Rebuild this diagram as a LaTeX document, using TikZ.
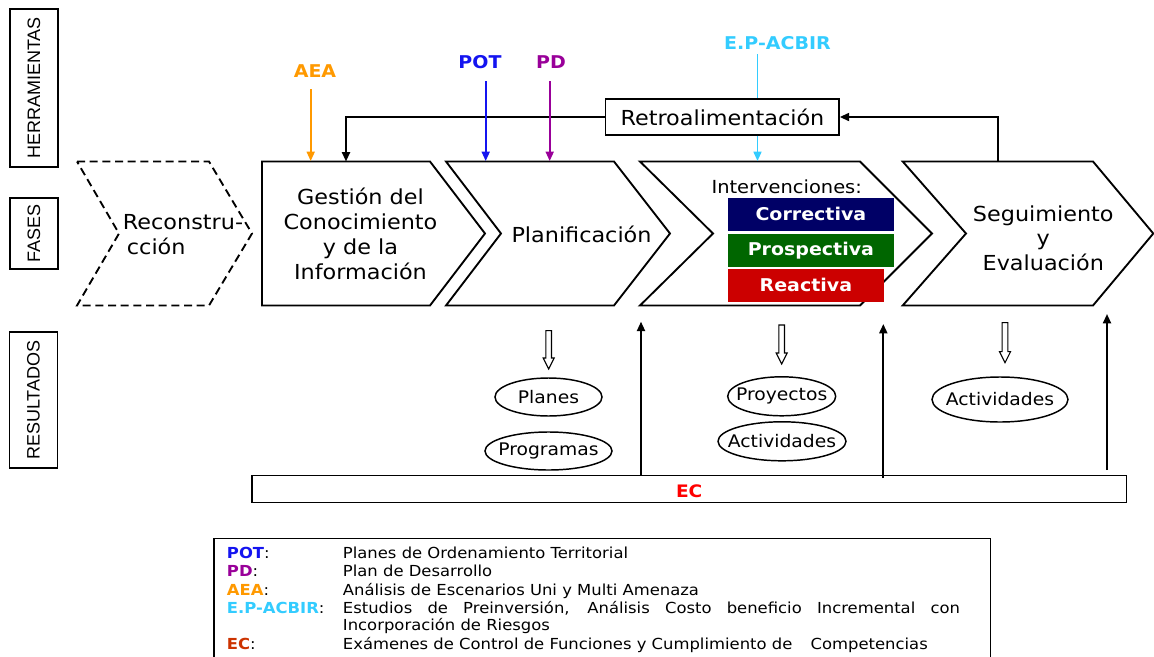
\documentclass[tikz,border=0pt]{standalone}
\usepackage{fontspec}
\setmainfont[FakeStretch=1.08]{DejaVu Sans}
\newfontfamily\arialf{Liberation Sans}
\usetikzlibrary{arrows.meta,shapes.geometric}
\definecolor{cAEA}{RGB}{255,153,0}
\definecolor{cPOT}{RGB}{20,20,240}
\definecolor{cPD}{RGB}{153,0,153}
\definecolor{cEP}{RGB}{51,204,255}
\definecolor{cEC}{RGB}{255,0,0}
\definecolor{cECl}{RGB}{204,51,0}
\definecolor{cNavy}{RGB}{0,0,102}
\definecolor{cGreen}{RGB}{0,102,0}
\definecolor{cRed}{RGB}{204,0,0}
\newcommand{\hollowdown}[3]{%
  \draw[hollow] (#1-2.8,#2) -- (#1+2.8,#2) -- (#1+2.8,#3-11) -- (#1+5.5,#3-11) -- (#1,#3) -- (#1-5.5,#3-11) -- (#1-2.8,#3-11) -- cycle;}
\begin{document}
\begin{tikzpicture}[x=0.75pt,y=-0.75pt,
  phase/.style={line width=1.4pt, line join=miter},
  arr/.style={line width=1.4pt,-{Triangle[length=7pt,width=6pt]}},
  tool/.style={line width=1.2pt,-{Triangle[length=7pt,width=6pt]}},
  mtext/.style={font=\fontsize{15.5}{18.75}\selectfont, align=center, inner sep=0pt},
  side/.style={draw, line width=1.1pt, font=\arialf\fontsize{13.5}{16}\selectfont, inner sep=0pt, rotate=90, minimum height=36pt},
  res/.style={draw, ellipse, line width=1.1pt, inner sep=0pt},
  restxt/.style={inner sep=0pt, font=\fontsize{13}{15}\selectfont},
  hollow/.style={draw, line width=0.8pt, fill=white},
  itv/.style={inner sep=0pt, font=\bfseries\fontsize{13.2}{16}\selectfont, text=white},
  tooltxt/.style={inner sep=0pt, font=\bfseries\fontsize{13.2}{16}\selectfont},
  leg/.style={font=\fontsize{11.4}{13}\selectfont, inner sep=0pt, anchor=west, text height=8.5pt, text depth=2.5pt}
]
\useasboundingbox (0,0) rectangle (1154,657);

% side labels
\node[side, minimum width=118.5pt] (herr) at (34,88) {HERRAMIENTAS};
\node[side, minimum width=53.25pt] (fases) at (34,233.5) {FASES};
\node[side, minimum width=102pt] (resu) at (33.5,400) {RESULTADOS};

% phases
\draw[phase, dash pattern=on 6pt off 3.5pt] (77,161.5) -- (209,161.5) -- (252,233.5) -- (209,305.5) -- (77,305.5) -- (119,233.5) -- cycle;
\draw[phase] (262,161.5) -- (430,161.5) -- (485,233.5) -- (430,305.5) -- (262,305.5) -- cycle;
\draw[phase] (446,161.5) -- (614,161.5) -- (670,233.5) -- (614,305.5) -- (446,305.5) -- (501,233.5) -- cycle;
\draw[phase] (640,161.5) -- (860,161.5) -- (932,233.5) -- (860,305.5) -- (640,305.5) -- (713,233.5) -- cycle;
\draw[phase] (902.7,161.5) -- (1093,161.5) -- (1153.3,233.5) -- (1093,305.5) -- (902.7,305.5) -- (966,233.5) -- cycle;

\node[mtext, align=left] (recon) at (183,235) {Reconstru-\\\hspace{3pt}cción};
\node[mtext] (gest) at (360.5,234) {Gestión del\\Conocimiento\\y de la\\Información};
\node[mtext] (plan) at (581.5,234.5) {Planificación};
\node[mtext, font=\fontsize{13.5}{16}\selectfont] (interv) at (786.7,187) {Intervenciones:};
\node[mtext, font=\fontsize{15.5}{18.3}\selectfont] (segu) at (1043.3,238) {Seguimiento\\y\\Evaluación};

\node[itv, fill=cNavy, minimum width=124.7pt, minimum height=25pt] (corr) at (810.9,214.4) {Correctiva};
\node[itv, fill=cGreen, minimum width=124.7pt, minimum height=24.5pt] (pros) at (810.9,250.4) {Prospectiva\hspace{10pt}};
\node[itv, fill=cRed, minimum width=117.2pt, minimum height=24.75pt] (reac) at (805.9,285.2) {Reactiva};

% feedback
\node[draw, line width=1.1pt, minimum width=175pt, minimum height=27pt, inner sep=0pt, font=\fontsize{15.5}{18}\selectfont] (retro) at (722.4,117) {Retroalimentación};
\coordinate (segtop) at (998.3,161.5);
\coordinate (gtop) at (346,161.5);
\draw[arr] (segtop) |- (retro.east);
\draw[arr] (retro.west) -| (gtop);

% tools
\node[tooltxt, text=cAEA] (aea) at (315,71) {AEA};
\node[tooltxt, text=cPOT] (pot) at (480,62) {POT};
\node[tooltxt, text=cPD] (pd) at (551,62) {PD};
\node[tooltxt, text=cEP] (ep) at (777.5,43) {E.P-ACBIR};
\coordinate (aeaS) at (310.7,89);   \coordinate (aeaE) at (310.7,161);
\coordinate (potS) at (485.7,81);   \coordinate (potE) at (485.7,161);
\coordinate (pdS) at (549.7,81);    \coordinate (pdE) at (549.7,161);
\coordinate (epS) at (757.5,54);    \coordinate (epE) at (757.5,161);
\draw[tool, cAEA] (aeaS) -- (aeaE);
\draw[tool, cPOT] (potS) -- (potE);
\draw[tool, cPD] (pdS) -- (pdE);
\draw[line width=1.2pt, cEP] (epS) -- (epS |- retro.north);
\draw[tool, cEP] (epS |- retro.south) -- (epE);

% results
\hollowdown{548.7}{330.7}{369}
\hollowdown{781.7}{325}{364}
\hollowdown{1005}{322.7}{362.7}
\node[res, minimum width=80.25pt, minimum height=28.5pt] (planes) at (548.5,397) {};
\node[res, minimum width=95.25pt, minimum height=28.5pt] (progr) at (548.5,451) {};
\node[res, minimum width=81pt, minimum height=29.25pt] (proy) at (781.7,396.3) {};
\node[res, minimum width=96pt, minimum height=29.25pt] (activ) at (782,441.3) {};
\node[res, minimum width=102pt, minimum height=33.75pt] (activb) at (1000,399.5) {};
\node[restxt] (planest) at (planes) {Planes};
\node[restxt] (progrt) at (progr) {Programas};
\node[restxt] (proyt) at (proy) {Proyectos};
\node[restxt] (activt) at (activ) {Actividades};
\node[restxt] (activbt) at (activb) {Actividades};

% EC
\node[draw, line width=1.1pt, minimum width=656pt, minimum height=20.25pt, inner sep=0pt] (ec) at (689.4,489.2) {};
\node[tooltxt, text=cEC, font=\bfseries\fontsize{12.9}{15}\selectfont] (ectxt) at (689.2,491) {EC};
\coordinate (up1) at (641,321.7);
\coordinate (up2) at (883.3,324);
\coordinate (up3) at (1107,314);
\coordinate (up3s) at (1107,470);
\draw[arr] (ec.north -| up1) -- (up1);
\draw[arr] (883.3,478) -- (up2);
\draw[arr] (up3s) -- (up3);

% legend
\draw[line width=1.1pt] (214,657) -- (214,538.5) -- (990.7,538.5) -- (990.7,657);
\node[leg] (l1) at (226.7,554) {\textbf{\color{cPOT}POT}:};
\node[leg] (l2) at (226.7,572.7) {\textbf{\color{cPD}PD}:};
\node[leg] (l3) at (226.7,591) {\textbf{\color{cAEA}AEA}:};
\node[leg] (l4) at (226.7,609) {\textbf{\color{cEP}E.P-ACBIR}:};
\node[leg] (l6) at (226.7,645) {\textbf{\color{cECl}EC}:};
\node[leg] (d1) at (342.7,554) {Planes de Ordenamiento Territorial};
\node[leg] (d2) at (342.7,572.7) {Plan de Desarrollo};
\node[leg] (d3) at (342.7,591) {Análisis de Escenarios Uni y Multi Amenaza};
\node[leg] (d4) at (342.7,609) {\makebox[462.75pt][s]{Estudios de Preinversión, Análisis Costo beneficio Incremental con}};
\node[leg] (d5) at (342.7,626.7) {Incorporación de Riesgos};
\node[leg] (d6) at (342.7,645) {Exámenes de Control de Funciones y Cumplimiento de\hspace{1.2em}Competencias};
\end{tikzpicture}
\end{document}
